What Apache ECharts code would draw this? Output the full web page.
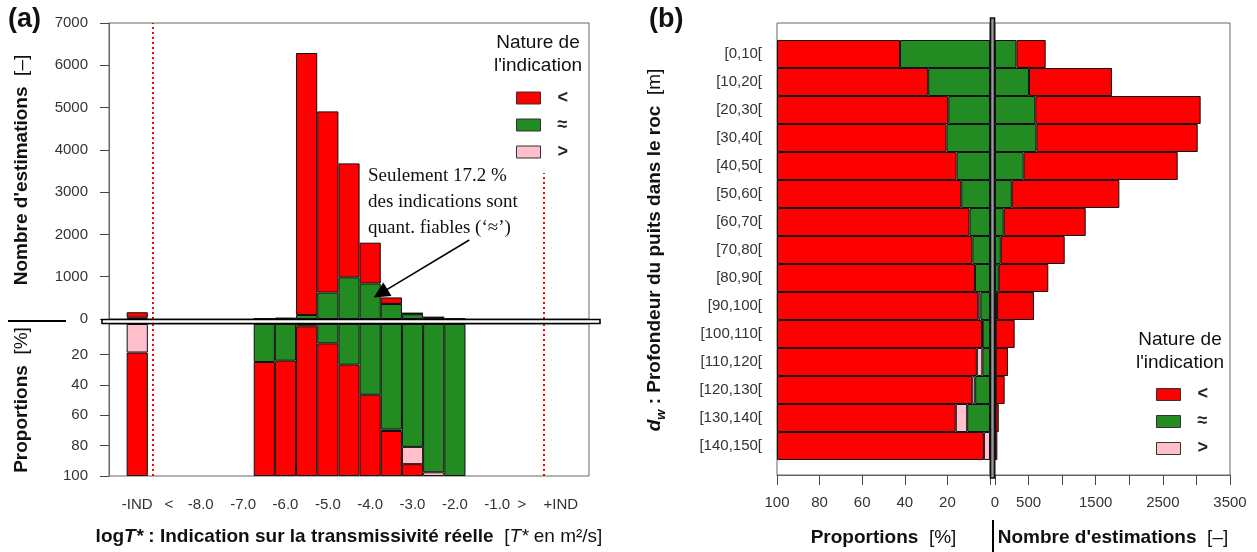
<!DOCTYPE html>
<html><head><meta charset="utf-8">
<script src="https://cdn.jsdelivr.net/npm/echarts@6/dist/echarts.min.js"></script>
<style>html,body{margin:0;padding:0;background:#fff}#c{width:1257px;height:552px}</style>
</head><body><div id="c"></div>
<script>
// ---------------- DATA ----------------
// Panel (a): slots along the x axis (slot 0 = -IND, slot 6 = -6.5 ... slot 15 = -2.0, slot 20 = +IND)
const aSlotCount = 21;
const aBinSlots = [0, 6, 7, 8, 9, 10, 11, 12, 13, 14, 15];
const aLess     = [130, 3, 22, 6195, 4285, 2695, 965, 151, 11, 0, 0];
const aApprox   = [0, 1, 7, 95, 625, 985, 840, 354, 114, 40, 12];
const aGreater  = [30, 0, 0, 0, 0, 0, 0, 5, 16, 1, 0];
const aTickSlots  = [0, 1.5, 3, 5, 7, 9, 11, 13, 15, 17, 18.17, 20];
const aTickLabels = ['-IND', '<', '-8.0', '-7.0', '-6.0', '-5.0', '-4.0', '-3.0', '-2.0', '-1.0', '>', '+IND'];
const aLimitSlots = [0.75, 19.22];

// Panel (b): depth classes
const bDepthBins = ['[0,10[', '[10,20[', '[20,30[', '[30,40[', '[40,50[', '[50,60[', '[60,70[', '[70,80[',
  '[80,90[', '[90,100[', '[100,110[', '[110,120[', '[120,130[', '[130,140[', '[140,150['];
const bLess    = [436, 1237, 2463, 2403, 2294, 1602, 1221, 952, 738, 549, 282, 182, 132, 47, 34];
const bApprox  = [319, 506, 600, 616, 427, 250, 130, 86, 56, 26, 10, 7, 10, 6, 0];
const bGreater = [0, 0, 0, 0, 0, 0, 0, 0, 0, 6, 1, 5, 2, 3, 1];
const bCountTickLabels = [0, 500, 1500, 2500, 3500];

const typeNames = ['<', '≈', '>'];

// ---------------- STYLE / LAYOUT ----------------
const FONT = '"Liberation Sans", Arial, Helvetica, sans-serif';
const SERIF = '"Liberation Serif", "Times New Roman", serif';
const RED = '#FF0000', GREEN = '#228B22', PINK = '#FFC0CB';
const TXT = '#222', FRAME = '#666';
const A_LEFT = 109, A_WIDTH = 480, A_TOP = 23, A_TOPH = 296, A_BOT = 324, A_BOTH = 152;
const SLOT_MIN = -4 / 3, SLOT_MAX = 64 / 3;
const slotPx = A_WIDTH / (SLOT_MAX - SLOT_MIN);
const A_BARLEFT = A_LEFT + (-0.5 - SLOT_MIN) * slotPx, A_BARW = aSlotCount * slotPx;
const BL_LEFT = 777, BL_W = 213, BR_LEFT = 995, BR_W = 235;
const B_FTOP = 23, B_FH = 452, B_TOP = 40, B_H = 420;

const nz = v => (v === 0 ? null : v);
const aSlotCats = Array.from({ length: aSlotCount }, (_, i) => String(i));
const aTotals = aBinSlots.map((_, i) => aLess[i] + aApprox[i] + aGreater[i]);
const bTotals = bDepthBins.map((_, i) => bLess[i] + bApprox[i] + bGreater[i]);
function slotSeries(vals, toValue) {
  const out = aSlotCats.map(() => null);
  aBinSlots.forEach((s, i) => { out[s] = nz(toValue(vals[i], i)); });
  return out;
}
const sixthLabel = {};
aTickSlots.forEach((s, i) => { sixthLabel[Math.round(s * 6)] = aTickLabels[i]; });

const defs = [
  { name: '≈', color: GREEN, a: aApprox, b: bApprox },
  { name: '>', color: PINK, a: aGreater, b: bGreater },
  { name: '<', color: RED, a: aLess, b: bLess }
];
const border = { borderColor: '#111', borderWidth: 1 };

const series = [];
defs.forEach(d => {
  const st = Object.assign({ color: d.color }, border);
  const common = { type: 'bar', name: d.name, itemStyle: st, silent: true, animation: false, barCategoryGap: '0%' };
  series.push(Object.assign({ xAxisIndex: 3, yAxisIndex: 2, stack: 'aTop', data: slotSeries(d.a, v => v) }, common));
  series.push(Object.assign({ xAxisIndex: 4, yAxisIndex: 3, stack: 'aBot', data: slotSeries(d.a, (v, i) => v / aTotals[i] * 100) }, common));
  series.push(Object.assign({ xAxisIndex: 5, yAxisIndex: 4, stack: 'bLeft', data: bDepthBins.map((_, i) => nz(d.b[i] / bTotals[i] * 100)) }, common));
  series.push(Object.assign({ xAxisIndex: 6, yAxisIndex: 5, stack: 'bRight', data: bDepthBins.map((_, i) => nz(d.b[i])) }, common));
});
const dotted = { color: RED, type: [2, 3], width: 2 };
const anchor = { type: 'scatter', symbolSize: 0, silent: true, animation: false, data: [[0, 0]], itemStyle: { opacity: 0 } };
series.push(Object.assign({}, anchor, {
  xAxisIndex: 0, yAxisIndex: 0,
  markLine: { silent: true, animation: false, symbol: 'none', label: { show: false }, lineStyle: dotted,
    data: [[{ coord: [aLimitSlots[0], 0] }, { coord: [aLimitSlots[0], 7000] }],
           [{ coord: [aLimitSlots[1], 0] }, { coord: [aLimitSlots[1], 3450] }]] }
}));
series.push(Object.assign({}, anchor, {
  xAxisIndex: 0, yAxisIndex: 0,
  markLine: { silent: true, animation: false, symbol: ['none', 'triangle'], symbolSize: 16, label: { show: false },
    lineStyle: { color: '#000', type: 'solid', width: 1.5 },
    data: [[{ coord: [15.68, 1868] }, { coord: [11.49, 606] }]] }
}));
series.push(Object.assign({}, anchor, {
  xAxisIndex: 1, yAxisIndex: 1,
  markLine: { silent: true, animation: false, symbol: 'none', label: { show: false }, lineStyle: dotted,
    data: [[{ coord: [aLimitSlots[0], 0] }, { coord: [aLimitSlots[0], 100] }],
           [{ coord: [aLimitSlots[1], 0] }, { coord: [aLimitSlots[1], 100] }]] }
}));

const tickLbl = { fontSize: 15, color: '#333', fontFamily: FONT };
const hiddenVal = (grid, min, max, extra) => Object.assign({ type: 'value', gridIndex: grid, min, max, show: false }, extra || {});
const hiddenCat = (grid, data, extra) => Object.assign({ type: 'category', gridIndex: grid, data, show: false }, extra || {});
const gridBase = { show: true, borderColor: FRAME, borderWidth: 1, backgroundColor: 'transparent', containLabel: false, outerBoundsMode: 'none' };
const noFrame = { show: false, containLabel: false, outerBoundsMode: 'none' };
const legendBase = {
  orient: 'vertical', icon: 'rect', itemWidth: 24, itemHeight: 12, itemGap: 9,
  padding: 0, selectedMode: false, data: typeNames,
  itemStyle: { borderColor: '#333', borderWidth: 1 },
  textStyle: { fontSize: 18, fontWeight: 'bold', color: TXT, fontFamily: FONT, lineHeight: 12, padding: [0, 0, 0, 12] }
};

const option = {
  animation: false,
  textStyle: { fontFamily: FONT },
  grid: [
    Object.assign({ left: A_LEFT, width: A_WIDTH, top: A_TOP, height: A_TOPH }, gridBase),
    Object.assign({ left: A_LEFT, width: A_WIDTH, top: A_BOT, height: A_BOTH }, gridBase),
    Object.assign({ left: A_BARLEFT, width: A_BARW, top: A_TOP, height: A_TOPH }, noFrame),
    Object.assign({ left: A_BARLEFT, width: A_BARW, top: A_BOT, height: A_BOTH }, noFrame),
    Object.assign({ left: BL_LEFT, width: BL_W, top: B_TOP, height: B_H }, noFrame),
    Object.assign({ left: BR_LEFT, width: BR_W, top: B_TOP, height: B_H }, noFrame),
    Object.assign({ left: BL_LEFT, width: BL_W, top: B_FTOP, height: B_FH }, gridBase),
    Object.assign({ left: BR_LEFT, width: BR_W, top: B_FTOP, height: B_FH }, gridBase)
  ],
  xAxis: [
    hiddenVal(0, SLOT_MIN, SLOT_MAX),
    hiddenVal(1, SLOT_MIN, SLOT_MAX, { position: 'top' }),
    {
      type: 'value', gridIndex: 1, position: 'bottom', min: -8, max: 128, interval: 1,
      axisLine: { show: false }, axisTick: { show: false }, splitLine: { show: false },
      axisLabel: Object.assign({ margin: 21, interval: 0, formatter: v => sixthLabel[Math.round(v)] || '' }, tickLbl)
    },
    hiddenCat(2, aSlotCats),
    hiddenCat(3, aSlotCats),
    hiddenVal(4, 0, 100, { inverse: true }),
    hiddenVal(5, 0, 3500),
    {
      type: 'value', gridIndex: 6, min: 0, max: 100, interval: 20, inverse: true, position: 'bottom',
      axisLine: { show: true, onZero: false, lineStyle: { color: FRAME } },
      axisTick: { show: true, length: 10, lineStyle: { color: '#444' } },
      splitLine: { show: false },
      axisLabel: Object.assign({ margin: 20, formatter: v => (v === 0 ? '' : String(v)) }, tickLbl)
    },
    {
      type: 'value', gridIndex: 7, min: 0, max: 3500, interval: 500, position: 'bottom',
      axisLine: { show: true, onZero: false, lineStyle: { color: FRAME } },
      axisTick: { show: true, length: 10, lineStyle: { color: '#444' } },
      splitLine: { show: false },
      axisLabel: Object.assign({ margin: 20, formatter: v => (bCountTickLabels.indexOf(v) >= 0 ? String(v) : '') }, tickLbl)
    }
  ],
  yAxis: [
    {
      type: 'value', gridIndex: 0, min: 0, max: 7000, interval: 1000,
      axisLine: { show: true, onZero: false, lineStyle: { color: FRAME } },
      axisTick: { show: true, length: 9, lineStyle: { color: '#444' } },
      splitLine: { show: false }, axisLabel: Object.assign({ margin: 21, formatter: v => String(v) }, tickLbl)
    },
    {
      type: 'value', gridIndex: 1, min: 0, max: 100, interval: 20, inverse: true,
      axisLine: { show: true, onZero: false, lineStyle: { color: FRAME } },
      axisTick: { show: true, length: 9, lineStyle: { color: '#444' } },
      splitLine: { show: false }, axisLabel: Object.assign({ margin: 21, showMinLabel: false, formatter: v => String(v) }, tickLbl)
    },
    hiddenVal(2, 0, 7000),
    hiddenVal(3, 0, 100, { inverse: true }),
    {
      type: 'category', gridIndex: 4, data: bDepthBins, inverse: true,
      axisLine: { show: false }, axisTick: { show: false },
      axisLabel: Object.assign({ margin: 15 }, tickLbl)
    },
    hiddenCat(5, bDepthBins, { inverse: true }),
    hiddenVal(6, 0, 1),
    hiddenVal(7, 0, 1)
  ],
  legend: [
    Object.assign({ left: 516, top: 89 }, legendBase),
    Object.assign({ left: 1156, top: 385.5 }, legendBase)
  ],
  series: series
};

const B = (sz, extra) => Object.assign({ fontFamily: FONT, fontSize: sz, fontWeight: 'bold', fill: '#111' }, extra || {});
const N = (sz, extra) => Object.assign({ fontFamily: FONT, fontSize: sz, fontWeight: 'normal', fill: '#111' }, extra || {});
const titleRich = { b: B(19), n: N(19), bi: B(19, { fontStyle: 'italic' }), i: N(19, { fontStyle: 'italic' }),
  sub: B(13, { fontStyle: 'italic', verticalAlign: 'bottom', lineHeight: 26 }), bd: B(19, { fontStyle: 'italic', lineHeight: 22 }) };
function txt(x, y, text, opts) {
  return {
    type: 'text', x, y, z: 100, silent: true,
    style: Object.assign({ text, align: 'center', verticalAlign: 'middle', rich: titleRich, fontFamily: FONT, fontSize: 19, fill: '#111' }, opts || {})
  };
}
const graphics = [
  txt(8, 20, '(a)', { align: 'left', fontSize: 27, fontWeight: 'bold' }),
  txt(649, 20, '(b)', { align: 'left', fontSize: 27, fontWeight: 'bold' }),
  Object.assign(txt(22, 170, "{b|Nombre d'estimations}{n|  [–]}"), { rotation: Math.PI / 2 }),
  Object.assign(txt(22, 400, '{b|Proportions}{n|  [%]}'), { rotation: Math.PI / 2 }),
  Object.assign(txt(655, 250, '{bd|d}{sub|w}{b| : Profondeur du puits dans le roc}{n|  [m]}'), { rotation: Math.PI / 2 }),
  txt(349, 537, '{b|log}{bi|T*}{b| : Indication sur la transmissivité réelle}{n|  [}{i|T*}{n| en m²/s]}'),
  txt(883.5, 538, '{b|Proportions}{n|  [%]}'),
  txt(1113, 538, "{b|Nombre d'estimations}{n|  [–]}"),
  txt(538, 54, "Nature de\nl'indication", { lineHeight: 23, fontSize: 19, fill: '#111' }),
  txt(1180, 351, "Nature de\nl'indication", { lineHeight: 23, fontSize: 19, fill: '#111' }),
  txt(368, 202, 'Seulement 17.2 %\ndes indications sont\nquant. fiables (‘≈’)',
    { align: 'left', fontFamily: SERIF, fontSize: 19, lineHeight: 25.7, fill: '#111' }),
  { type: 'line', z: 100, silent: true, shape: { x1: 8, y1: 321, x2: 66, y2: 321 }, style: { stroke: '#000', lineWidth: 2 } },
  { type: 'line', z: 100, silent: true, shape: { x1: 993, y1: 520, x2: 993, y2: 552 }, style: { stroke: '#000', lineWidth: 2 } },
  { type: 'rect', z: 100, silent: true, shape: { x: 102, y: 319.5, width: 498, height: 4 }, style: { fill: '#fff', stroke: '#000', lineWidth: 1.6 } },
  { type: 'rect', z: 100, silent: true, shape: { x: 990.5, y: 18, width: 4, height: 460 }, style: { fill: '#999', stroke: '#111', lineWidth: 1.6 } }
];
option.graphic = { elements: graphics };

const chart = echarts.init(document.getElementById('c'), null, { renderer: 'canvas' });
chart.setOption(option);
</script></body></html>
